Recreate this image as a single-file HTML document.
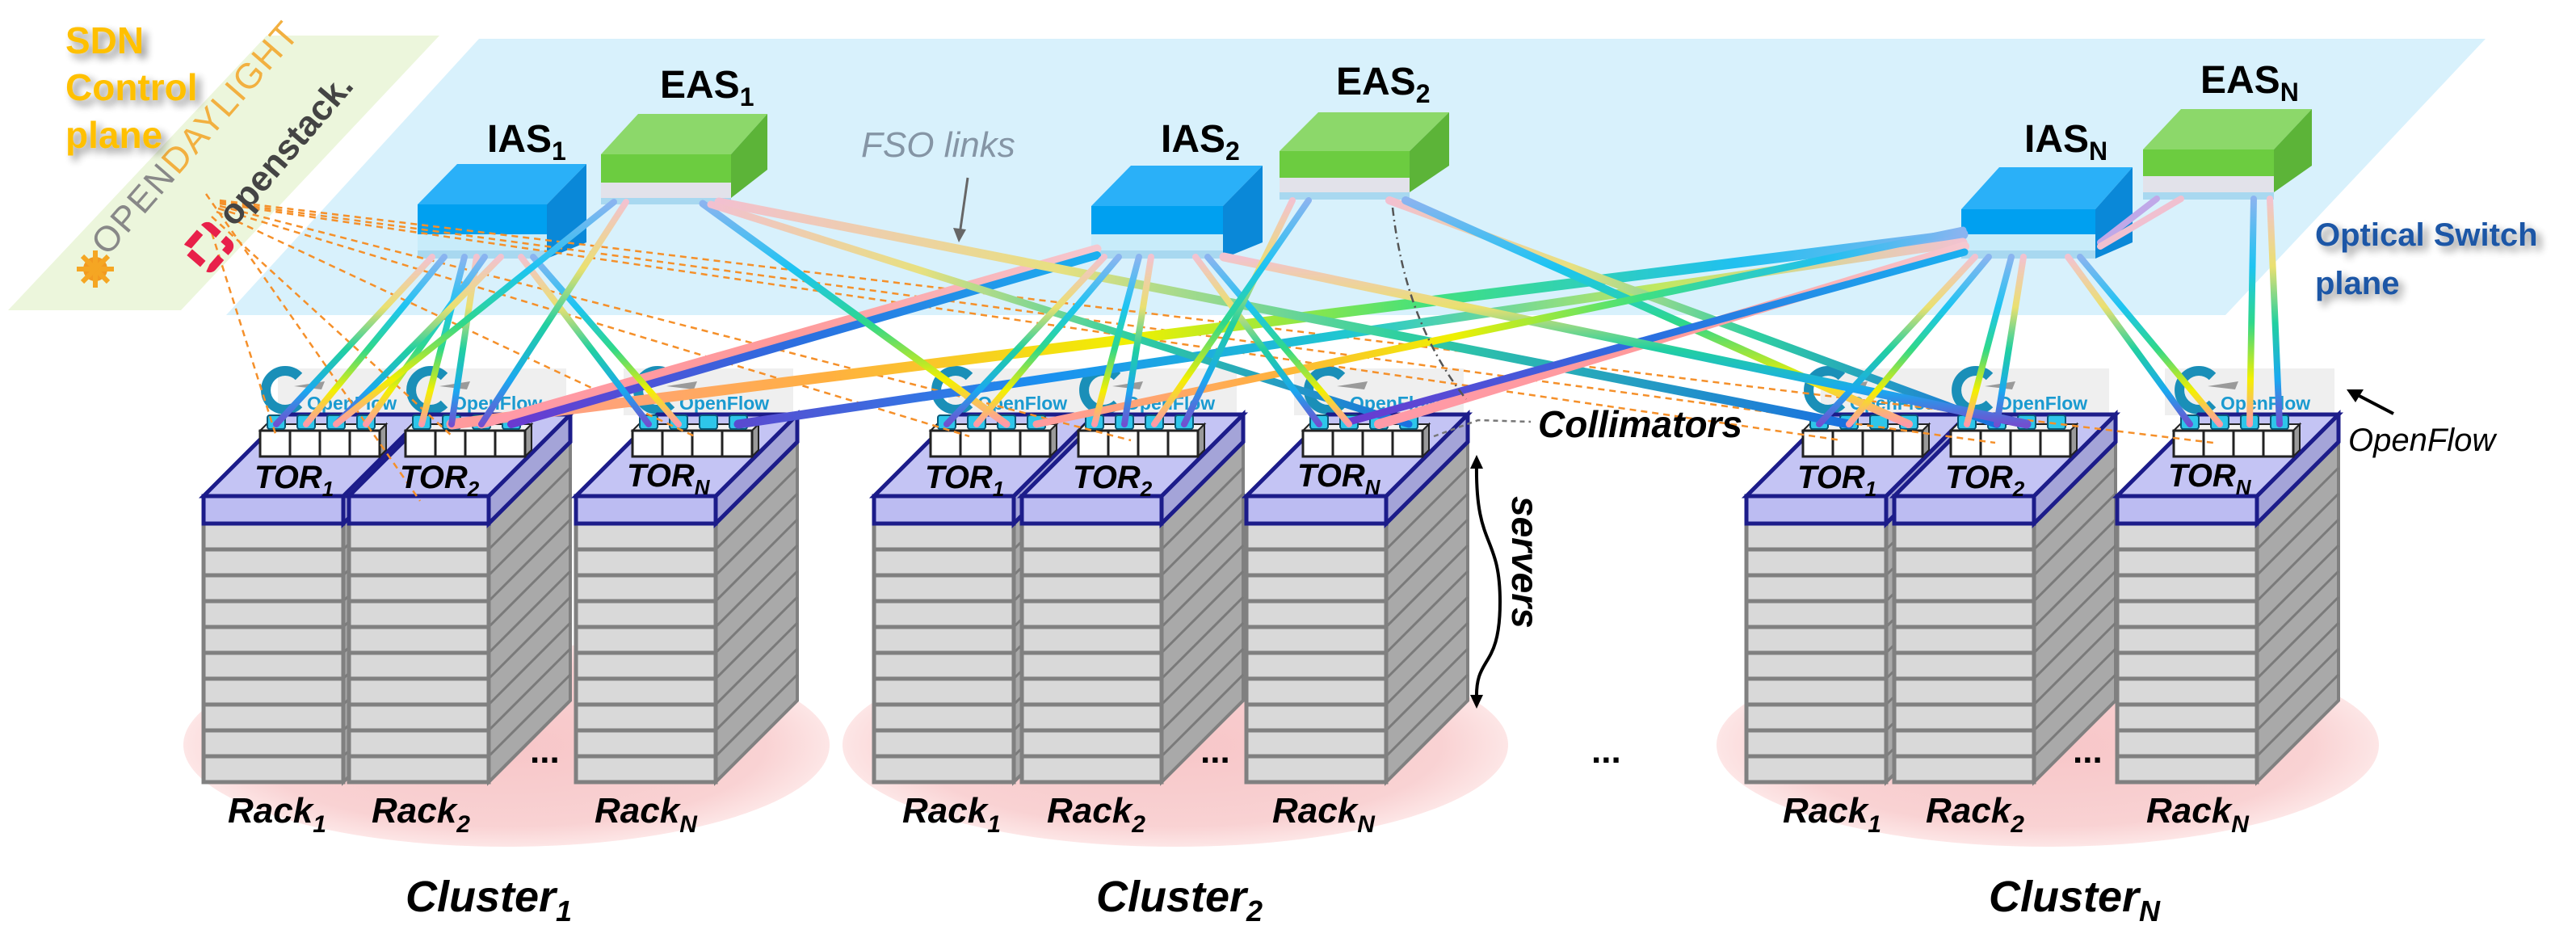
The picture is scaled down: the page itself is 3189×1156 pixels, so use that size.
<!DOCTYPE html>
<html><head><meta charset="utf-8"><style>
html,body{margin:0;padding:0;background:#fff;}
svg{display:block;}
text{font-family:"Liberation Sans",sans-serif;}
</style></head><body>
<svg width="3189" height="1156" viewBox="0 0 3189 1156" xmlns="http://www.w3.org/2000/svg">
<defs>
<radialGradient id="pink" cx="0.5" cy="0.5" r="0.5">
<stop offset="0" stop-color="#f7c6c8"/><stop offset="0.8" stop-color="#f9d2d3"/><stop offset="1" stop-color="#fde6e6"/>
</radialGradient>
<linearGradient id="g1" x1="0" y1="0" x2="0" y2="1">
<stop offset="0" stop-color="#8ab4f0"/><stop offset="0.3" stop-color="#1cc4f2"/><stop offset="0.55" stop-color="#2fd88a"/><stop offset="0.8" stop-color="#f4f000"/><stop offset="1" stop-color="#ff9aa8"/>
</linearGradient>
<linearGradient id="g2" x1="0" y1="0" x2="0" y2="1">
<stop offset="0" stop-color="#f2c2d0"/><stop offset="0.3" stop-color="#eae070"/><stop offset="0.55" stop-color="#22d0a0"/><stop offset="0.8" stop-color="#1aa8f0"/><stop offset="1" stop-color="#7050d0"/>
</linearGradient>
<linearGradient id="h1" x1="0" y1="0" x2="1" y2="0">
<stop offset="0" stop-color="#ff9aa0"/><stop offset="0.25" stop-color="#ffb040"/><stop offset="0.45" stop-color="#f0f000"/><stop offset="0.65" stop-color="#40e080"/><stop offset="0.85" stop-color="#20c0f0"/><stop offset="1" stop-color="#8ab4f0"/>
</linearGradient>
<linearGradient id="h2" x1="0" y1="0" x2="1" y2="0">
<stop offset="0" stop-color="#5a4ad0"/><stop offset="0.25" stop-color="#1a90f0"/><stop offset="0.5" stop-color="#20c8d0"/><stop offset="0.75" stop-color="#c0e860"/><stop offset="1" stop-color="#f2c2d0"/>
</linearGradient>
<linearGradient id="h3" x1="0" y1="0" x2="1" y2="0">
<stop offset="0" stop-color="#f2c0d0"/><stop offset="0.3" stop-color="#e8e080"/><stop offset="0.6" stop-color="#30d0a0"/><stop offset="1" stop-color="#1a70e0"/>
</linearGradient>
<linearGradient id="h4" x1="0" y1="0" x2="1" y2="0">
<stop offset="0" stop-color="#ff9aa8"/><stop offset="0.5" stop-color="#ff9a9a"/><stop offset="1" stop-color="#f5c8d0"/>
</linearGradient>
<linearGradient id="h5" x1="0" y1="0" x2="1" y2="0">
<stop offset="0" stop-color="#6a3ad0"/><stop offset="0.5" stop-color="#2a70e0"/><stop offset="1" stop-color="#1ab0f0"/>
</linearGradient>
<filter id="sh" x="-20%" y="-20%" width="140%" height="160%"><feGaussianBlur in="SourceAlpha" stdDeviation="5"/><feOffset dx="6" dy="6"/><feComponentTransfer><feFuncA type="linear" slope="0.45"/></feComponentTransfer><feMerge><feMergeNode/><feMergeNode in="SourceGraphic"/></feMerge></filter>

<g id="rack">
<polygon points="173,614 274,513 274,867 173,968" fill="#a9a9a9" stroke="#808080" stroke-width="4"/>
<g stroke="#7a7a7a" stroke-width="3">
<line x1="173" y1="680" x2="274" y2="579"/><line x1="173" y1="712" x2="274" y2="611"/><line x1="173" y1="744" x2="274" y2="643"/><line x1="173" y1="776" x2="274" y2="675"/><line x1="173" y1="808" x2="274" y2="707"/><line x1="173" y1="840" x2="274" y2="739"/><line x1="173" y1="872" x2="274" y2="771"/><line x1="173" y1="904" x2="274" y2="803"/><line x1="173" y1="936" x2="274" y2="835"/>
</g>
<g fill="#d9d9d9" stroke="#808080" stroke-width="5">
<rect x="0" y="648" width="173" height="32"/><rect x="0" y="680" width="173" height="32"/><rect x="0" y="712" width="173" height="32"/><rect x="0" y="744" width="173" height="32"/><rect x="0" y="776" width="173" height="32"/><rect x="0" y="808" width="173" height="32"/><rect x="0" y="840" width="173" height="32"/><rect x="0" y="872" width="173" height="32"/><rect x="0" y="904" width="173" height="32"/><rect x="0" y="936" width="173" height="32"/>
</g>
<polygon points="173,614 274,513 274,547 173,648" fill="#a4a4d8" stroke="#1c1c8a" stroke-width="5"/>
<polygon points="0,614 101,513 274,513 173,614" fill="#c4c4f4" stroke="#1c1c8a" stroke-width="5"/>
<rect x="0" y="614" width="173" height="34" fill="#bcbcf2" stroke="#1c1c8a" stroke-width="5"/>
<polygon points="70,533 78,525 226,525 218,533" fill="#f2f2f2" stroke="#222" stroke-width="2"/>
<polygon points="218,533 226,525 226,557 218,565" fill="#9a9a9a" stroke="#222" stroke-width="2"/>
<g fill="#fff" stroke="#222" stroke-width="3">
<rect x="70" y="533" width="37" height="32"/><rect x="107" y="533" width="37" height="32"/><rect x="144" y="533" width="37" height="32"/><rect x="181" y="533" width="37" height="32"/>
</g>
<g fill="#2ec6ea" stroke="#0a5a78" stroke-width="2">
<rect x="79" y="514" width="22" height="17" rx="3"/><rect x="116" y="514" width="22" height="17" rx="3"/><rect x="153" y="514" width="22" height="17" rx="3"/><rect x="190" y="514" width="22" height="17" rx="3"/>
</g>
</g>

<g id="ofl">
<path d="M118,466 A24,24 0 1 0 118,500" fill="none" stroke="#1a8fb8" stroke-width="12"/>
<path d="M112,478 L150,472 L146,482 Z" fill="#9a9a9a"/>
<text x="128" y="507" font-size="23" font-weight="bold" fill="#1a9ad0">OpenFlow</text>
</g>
</defs>

<!-- planes -->
<polygon points="330,44 544,44 224,384 10,384" fill="#ecf6dc"/>
<polygon points="593,48 3077,48 2755,390 280,390" fill="#d8f1fc"/>

<!-- cluster ellipses -->
<ellipse cx="627" cy="922" rx="400" ry="126" fill="url(#pink)"/>
<ellipse cx="1455" cy="922" rx="412" ry="126" fill="url(#pink)"/>
<ellipse cx="2535" cy="922" rx="410" ry="126" fill="url(#pink)"/>

<!-- openflow bg -->
<g fill="#efefef">
<rect x="344" y="456" width="357" height="58"/><rect x="772" y="456" width="210" height="58"/>
<rect x="1174" y="456" width="357" height="58"/><rect x="1602" y="456" width="210" height="58"/>
<rect x="2254" y="456" width="357" height="58"/><rect x="2680" y="456" width="210" height="58"/>
</g>
<use href="#ofl" x="252"/><use href="#ofl" x="432"/><use href="#ofl" x="713"/>
<use href="#ofl" x="1082"/><use href="#ofl" x="1265"/><use href="#ofl" x="1543"/>
<use href="#ofl" x="2162"/><use href="#ofl" x="2345"/><use href="#ofl" x="2621"/>

<!-- racks -->
<use href="#rack" x="252"/><use href="#rack" x="432"/><use href="#rack" x="713"/>
<use href="#rack" x="1082"/><use href="#rack" x="1265"/><use href="#rack" x="1543"/>
<use href="#rack" x="2162"/><use href="#rack" x="2345"/><use href="#rack" x="2621"/>

<!-- switches -->
<g>
<!-- IAS1 -->
<polygon points="517,253 566,203 726,203 677,253" fill="#2ab0f8"/>
<polygon points="677,253 726,203 726,300 677,320" fill="#0a88d8"/>
<rect x="517" y="253" width="160" height="37" fill="#00a0f0"/>
<rect x="517" y="290" width="160" height="20" fill="#c8ecfa"/>
<rect x="517" y="310" width="160" height="10" fill="#a8d8f0"/>
<!-- EAS1 -->
<polygon points="744,191 790,141 950,141 905,191" fill="#8cd86a"/>
<polygon points="905,191 950,141 950,210 905,245" fill="#5cb438"/>
<rect x="744" y="191" width="161" height="35" fill="#6ccc40"/>
<rect x="744" y="226" width="161" height="19" fill="#e2e2ea"/>
<rect x="744" y="245" width="161" height="8" fill="#a8d8f0"/>
<!-- IAS2 -->
<polygon points="1351,255 1400,205 1563,205 1514,255" fill="#2ab0f8"/>
<polygon points="1514,255 1563,205 1563,300 1514,320" fill="#0a88d8"/>
<rect x="1351" y="255" width="163" height="35" fill="#00a0f0"/>
<rect x="1351" y="290" width="163" height="20" fill="#c8ecfa"/>
<rect x="1351" y="310" width="163" height="10" fill="#a8d8f0"/>
<!-- EAS2 -->
<polygon points="1584,187 1632,139 1794,139 1745,187" fill="#8cd86a"/>
<polygon points="1745,187 1794,139 1794,205 1745,238" fill="#5cb438"/>
<rect x="1584" y="187" width="161" height="33" fill="#6ccc40"/>
<rect x="1584" y="220" width="161" height="18" fill="#e2e2ea"/>
<rect x="1584" y="238" width="161" height="9" fill="#a8d8f0"/>
<!-- IASN -->
<polygon points="2428,259 2475,207 2640,207 2594,259" fill="#2ab0f8"/>
<polygon points="2594,259 2640,207 2640,300 2594,320" fill="#0a88d8"/>
<rect x="2428" y="259" width="166" height="31" fill="#00a0f0"/>
<rect x="2428" y="290" width="166" height="20" fill="#c8ecfa"/>
<rect x="2428" y="310" width="166" height="10" fill="#a8d8f0"/>
<!-- EASN -->
<polygon points="2653,185 2700,135 2862,135 2815,185" fill="#8cd86a"/>
<polygon points="2815,185 2862,135 2862,205 2815,238" fill="#5cb438"/>
<rect x="2653" y="185" width="162" height="33" fill="#6ccc40"/>
<rect x="2653" y="218" width="162" height="20" fill="#e2e2ea"/>
<rect x="2653" y="238" width="162" height="9" fill="#a8d8f0"/>
</g>

<!-- orange dashed control lines -->
<g stroke="#f5902a" stroke-width="2.5" stroke-dasharray="8,6" fill="none">
<line x1="258" y1="275" x2="342" y2="540"/><line x1="262" y1="268" x2="560" y2="540"/><line x1="268" y1="262" x2="860" y2="540"/>
<line x1="270" y1="258" x2="1200" y2="540"/><line x1="272" y1="255" x2="1400" y2="545"/>
<line x1="272" y1="252" x2="2280" y2="545"/><line x1="272" y1="250" x2="2470" y2="548"/><line x1="272" y1="248" x2="2740" y2="548"/>
<line x1="255" y1="240" x2="520" y2="620"/>
</g>

<!-- cables -->
<g fill="none" stroke-linecap="round">
<!-- long crossings -->
<line x1="559" y1="525" x2="2430" y2="290" stroke="url(#h1)" stroke-width="13"/>
<line x1="914" y1="525" x2="2430" y2="300" stroke="url(#h2)" stroke-width="11"/>
<line x1="596" y1="525" x2="1358" y2="308" stroke="url(#h4)" stroke-width="11"/>
<line x1="633" y1="525" x2="1358" y2="316" stroke="url(#h5)" stroke-width="10"/>
<line x1="870" y1="252" x2="1246" y2="525" stroke="url(#g1)" stroke-width="9"/>
<line x1="890" y1="250" x2="2289" y2="525" stroke="url(#h3)" stroke-width="11"/>
<line x1="880" y1="253" x2="1744" y2="525" stroke="url(#h3)" stroke-width="9"/>
<line x1="1720" y1="248" x2="2472" y2="525" stroke="url(#h3)" stroke-width="10"/>
<line x1="1740" y1="248" x2="2363" y2="525" stroke="url(#g1)" stroke-width="10"/>
<line x1="1707" y1="525" x2="2432" y2="305" stroke="url(#h4)" stroke-width="12"/>
<line x1="1670" y1="522" x2="2432" y2="312" stroke="url(#h5)" stroke-width="9"/>
<line x1="1515" y1="318" x2="2509" y2="525" stroke="url(#g2)" stroke-width="11"/>
<line x1="1283" y1="525" x2="2430" y2="285" stroke="url(#h1)" stroke-width="9"/>
<!-- local -->
<line x1="535" y1="318" x2="342" y2="525" stroke="url(#g2)" stroke-width="8"/>
<line x1="550" y1="318" x2="379" y2="525" stroke="url(#g1)" stroke-width="8"/>
<line x1="575" y1="318" x2="522" y2="525" stroke="url(#g1)" stroke-width="8"/>
<line x1="590" y1="318" x2="559" y2="525" stroke="url(#g2)" stroke-width="8"/>
<line x1="600" y1="318" x2="453" y2="525" stroke="url(#g1)" stroke-width="8"/>
<line x1="620" y1="318" x2="416" y2="525" stroke="url(#g2)" stroke-width="8"/>
<line x1="645" y1="318" x2="803" y2="525" stroke="url(#g2)" stroke-width="8"/>
<line x1="660" y1="318" x2="840" y2="525" stroke="url(#g1)" stroke-width="8"/>
<line x1="760" y1="250" x2="416" y2="525" stroke="url(#g1)" stroke-width="8"/>
<line x1="775" y1="250" x2="596" y2="525" stroke="url(#g2)" stroke-width="8"/>
<line x1="1367" y1="318" x2="1172" y2="525" stroke="url(#g2)" stroke-width="8"/>
<line x1="1385" y1="318" x2="1209" y2="525" stroke="url(#g1)" stroke-width="8"/>
<line x1="1410" y1="318" x2="1355" y2="525" stroke="url(#g1)" stroke-width="8"/>
<line x1="1425" y1="318" x2="1392" y2="525" stroke="url(#g2)" stroke-width="8"/>
<line x1="1480" y1="318" x2="1633" y2="525" stroke="url(#g2)" stroke-width="8"/>
<line x1="1495" y1="318" x2="1670" y2="525" stroke="url(#g1)" stroke-width="8"/>
<line x1="1600" y1="248" x2="1466" y2="525" stroke="url(#g2)" stroke-width="8"/>
<line x1="1620" y1="248" x2="1429" y2="525" stroke="url(#g1)" stroke-width="8"/>
<line x1="2445" y1="318" x2="2252" y2="525" stroke="url(#g2)" stroke-width="8"/>
<line x1="2462" y1="318" x2="2289" y2="525" stroke="url(#g1)" stroke-width="8"/>
<line x1="2490" y1="318" x2="2435" y2="525" stroke="url(#g1)" stroke-width="8"/>
<line x1="2505" y1="318" x2="2472" y2="525" stroke="url(#g2)" stroke-width="8"/>
<line x1="2560" y1="318" x2="2711" y2="525" stroke="url(#g2)" stroke-width="8"/>
<line x1="2575" y1="318" x2="2748" y2="525" stroke="url(#g1)" stroke-width="8"/>
<line x1="2790" y1="246" x2="2785" y2="525" stroke="url(#g1)" stroke-width="8"/>
<line x1="2810" y1="246" x2="2822" y2="525" stroke="url(#g2)" stroke-width="8"/>
<line x1="2670" y1="246" x2="2600" y2="300" stroke="#c0a8e8" stroke-width="8"/>
<line x1="2700" y1="246" x2="2600" y2="305" stroke="#f0c0d0" stroke-width="8"/>
</g>

<!-- collimator dash-dot -->
<path d="M1724,257 Q1740,400 1815,494" fill="none" stroke="#555" stroke-width="2.5" stroke-dasharray="10,5,2,5"/>
<path d="M1775,540 L1830,520 L1895,522" fill="none" stroke="#777" stroke-width="2.5" stroke-dasharray="6,5"/>

<!-- FSO links arrow -->
<line x1="1198" y1="220" x2="1188" y2="290" stroke="#666" stroke-width="3"/>
<polygon points="1180,282 1196,284 1187,300" fill="#666"/>
<!-- OpenFlow arrow -->
<line x1="2963" y1="512" x2="2915" y2="487" stroke="#000" stroke-width="4"/>
<polygon points="2905,482 2926,482 2916,498" fill="#000"/>

<!-- servers brace -->
<path d="M1828,572 C1826,680 1857,660 1857,745 C1857,830 1826,810 1828,866" fill="none" stroke="#000" stroke-width="4"/>
<polygon points="1820,580 1836,580 1828,563" fill="#000"/>
<polygon points="1820,860 1836,860 1828,877" fill="#000"/>

<!-- SDN logos -->
<g transform="translate(133,318) rotate(-49)">
<text x="0" y="0" font-size="44" fill="#888" letter-spacing="2">OPEN<tspan fill="#f2b040">DAYLIGHT</tspan></text>
</g>
<g transform="translate(290,282) rotate(-49.5)">
<text x="0" y="0" font-size="44" font-weight="bold" fill="#444">openstack.</text>
</g>
<g transform="translate(258,306) rotate(-49)">
<rect x="-20" y="-20" width="40" height="40" rx="5" fill="none" stroke="#e8204a" stroke-width="10" stroke-dasharray="22,8"/>
</g>
<circle cx="118" cy="333" r="15" fill="#f29a20"/>
<circle cx="118" cy="333" r="7" fill="#e8401a"/>
<g stroke="#f5a623" stroke-width="6"><line x1="118" y1="310" x2="118" y2="356"/><line x1="95" y1="333" x2="141" y2="333"/><line x1="102" y1="317" x2="134" y2="349"/><line x1="134" y1="317" x2="102" y2="349"/></g>

<!-- texts -->
<g filter="url(#sh)" font-weight="bold" font-size="46" fill="#ffc000">
<text x="81" y="66">SDN</text><text x="81" y="124">Control</text><text x="81" y="183">plane</text>
</g>
<g filter="url(#sh)" font-weight="bold" font-size="40" fill="#1a56a6">
<text x="2866" y="304">Optical Switch</text><text x="2866" y="364">plane</text>
</g>
<text x="1066" y="194" font-size="44" font-style="italic" fill="#8595a5">FSO links</text>

<g font-weight="bold" font-size="48" fill="#000">
<text x="603" y="188">IAS<tspan font-size="32" dy="10">1</tspan></text>
<text x="817" y="121">EAS<tspan font-size="32" dy="10">1</tspan></text>
<text x="1437" y="188">IAS<tspan font-size="32" dy="10">2</tspan></text>
<text x="1654" y="117">EAS<tspan font-size="32" dy="10">2</tspan></text>
<text x="2506" y="188">IAS<tspan font-size="32" dy="10">N</tspan></text>
<text x="2724" y="115">EAS<tspan font-size="32" dy="10">N</tspan></text>
</g>

<g font-weight="bold" font-style="italic" font-size="40" fill="#000">
<text x="315" y="604">TOR<tspan font-size="26" dy="10">1</tspan></text>
<text x="495" y="604">TOR<tspan font-size="26" dy="10">2</tspan></text>
<text x="776" y="602">TOR<tspan font-size="26" dy="10">N</tspan></text>
<text x="1145" y="604">TOR<tspan font-size="26" dy="10">1</tspan></text>
<text x="1328" y="604">TOR<tspan font-size="26" dy="10">2</tspan></text>
<text x="1606" y="602">TOR<tspan font-size="26" dy="10">N</tspan></text>
<text x="2225" y="604">TOR<tspan font-size="26" dy="10">1</tspan></text>
<text x="2408" y="604">TOR<tspan font-size="26" dy="10">2</tspan></text>
<text x="2684" y="602">TOR<tspan font-size="26" dy="10">N</tspan></text>
</g>

<g font-weight="bold" font-style="italic" font-size="44" fill="#000">
<text x="282" y="1018">Rack<tspan font-size="30" dy="12">1</tspan></text>
<text x="460" y="1018">Rack<tspan font-size="30" dy="12">2</tspan></text>
<text x="736" y="1018">Rack<tspan font-size="30" dy="12">N</tspan></text>
<text x="1117" y="1018">Rack<tspan font-size="30" dy="12">1</tspan></text>
<text x="1296" y="1018">Rack<tspan font-size="30" dy="12">2</tspan></text>
<text x="1575" y="1018">Rack<tspan font-size="30" dy="12">N</tspan></text>
<text x="2207" y="1018">Rack<tspan font-size="30" dy="12">1</tspan></text>
<text x="2384" y="1018">Rack<tspan font-size="30" dy="12">2</tspan></text>
<text x="2657" y="1018">Rack<tspan font-size="30" dy="12">N</tspan></text>
</g>
<g font-weight="bold" font-style="italic" font-size="54" fill="#000">
<text x="502" y="1128">Cluster<tspan font-size="36" dy="12">1</tspan></text>
<text x="1357" y="1128">Cluster<tspan font-size="36" dy="12">2</tspan></text>
<text x="2462" y="1128">Cluster<tspan font-size="36" dy="12">N</tspan></text>
</g>
<g font-weight="bold" font-size="44" fill="#000">
<text x="656" y="944">...</text><text x="1486" y="944">...</text><text x="2566" y="944">...</text>
<text x="1970" y="944">...</text>
</g>
<text x="1904" y="541" font-weight="bold" font-style="italic" font-size="46" fill="#000">Collimators</text>
<text x="2907" y="558" font-style="italic" font-size="40" fill="#000">OpenFlow</text>
<text transform="translate(1872,614) rotate(90)" font-weight="bold" font-style="italic" font-size="46" fill="#000">servers</text>
</svg>
</body></html>
